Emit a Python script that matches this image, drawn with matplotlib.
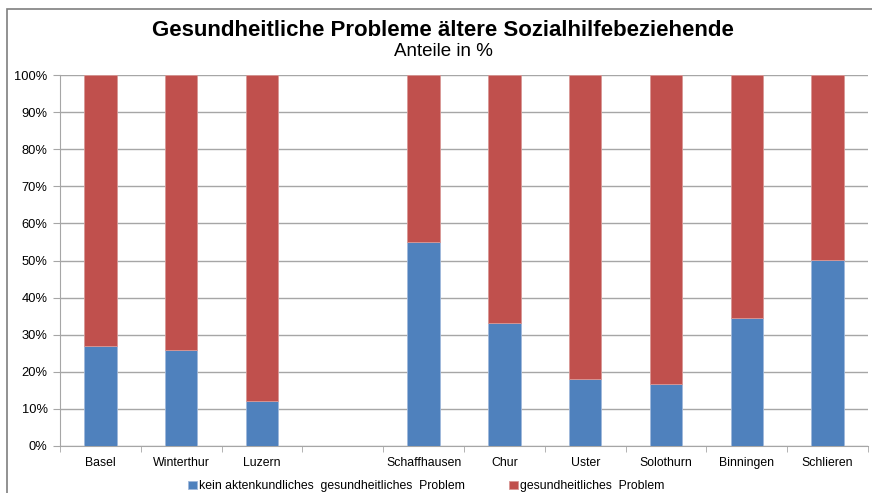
import matplotlib.pyplot as plt
from matplotlib.patches import Rectangle
from matplotlib.ticker import FuncFormatter

plt.rcParams['font.family'] = ['Liberation Sans', 'DejaVu Sans']

orte = ['Basel', 'Winterthur', 'Luzern', '', 'Schaffhausen', 'Chur', 'Uster',
        'Solothurn', 'Binningen', 'Schlieren']
kein_problem = [27.0, 26.0, 12.0, 0, 55.0, 33.2, 18.1, 16.7, 34.5, 50.1]
problem = [0 if o == '' else 100 - k for o, k in zip(orte, kein_problem)]

blau = '#4f81bd'
rot = '#c0504d'

fig = plt.figure(figsize=(8.72, 4.93), dpi=100)
ax = fig.add_axes([60 / 872, 1 - 446 / 493, 808 / 872, 371 / 493])

x = range(len(orte))
ax.bar(x, kein_problem, width=0.4, color=blau, edgecolor='#9fb8db', linewidth=0.6,
       label='kein aktenkundliches  gesundheitliches  Problem', zorder=3)
ax.bar(x, problem, width=0.4, bottom=kein_problem, color=rot, edgecolor='#d99795',
       linewidth=0.6, label='gesundheitliches  Problem', zorder=3)

ax.set_xlim(-0.5, len(orte) - 0.5)
ax.set_ylim(0, 100)
ax.set_yticks(range(0, 101, 10))
ax.yaxis.set_major_formatter(FuncFormatter(lambda v, p: f'{v:.0f}%'))
ax.grid(axis='y', color='#a6a6a6', linewidth=1, zorder=0)

ax.set_xticks(list(x))
ax.set_xticklabels(orte)
ax.set_xticks([i - 0.5 for i in range(len(orte) + 1)], minor=True)
ax.tick_params(axis='x', which='major', length=0, pad=8, labelsize=8.8)
ax.tick_params(axis='x', which='minor', length=4, color='#a6a6a6')
ax.tick_params(axis='y', length=5, color='#a6a6a6', labelsize=9.3, pad=4)

for s in ['top', 'right']:
    ax.spines[s].set_visible(False)
for s in ['left', 'bottom']:
    ax.spines[s].set_color('#a6a6a6')

fig.text(0.508, 1 - 30 / 493, 'Gesundheitliche Probleme ältere Sozialhilfebeziehende',
         ha='center', va='center', fontsize=16, fontweight='bold')
fig.text(0.508, 1 - 52 / 493, 'Anteile in %', ha='center', va='center', fontsize=13.5)

ax.legend(loc='center', bbox_to_anchor=(0.453, -0.108), ncol=2,
          frameon=False, fontsize=8.8, handlelength=0.75, handleheight=0.6,
          handletextpad=0.15, columnspacing=3.6)

fig.patches.append(Rectangle((7 / 872, -0.1), 1.2, 1 - 9 / 493 + 0.1,
                             transform=fig.transFigure, fill=False,
                             edgecolor='#7f7f7f', linewidth=1.2))

fig.savefig('out.png', dpi=100)
